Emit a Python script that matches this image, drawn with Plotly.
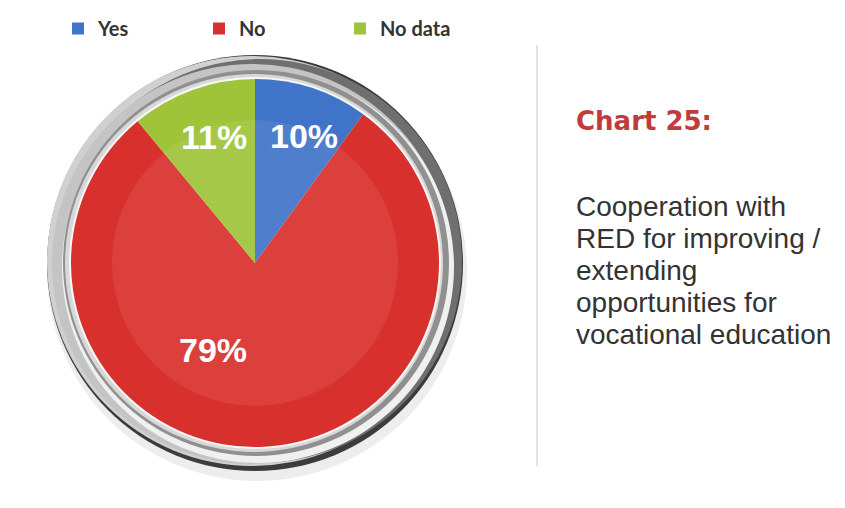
import plotly.graph_objects as go

# ---- data ----
categories = ["Yes", "No", "No data"]
values = [10, 79, 11]
colors = ["#3f74c8", "#d8302d", "#9fc43a"]
title_text = "Chart 25:"
desc_lines = ["Cooperation with", "RED for improving /", "extending",
              "opportunities for", "vocational education"]

W, H = 845, 508
OFF = 8  # page body margin
CX, CY, R = 255, 263, 184


def px(x):
    return (x - OFF) / W


def py(y):
    return 1 - (y - OFF) / H


def circle(cx, cy, r, fill, layer="below", opacity=1.0, line=None):
    return dict(type="circle", xref="paper", yref="paper",
                x0=px(cx - r), x1=px(cx + r), y0=py(cy + r), y1=py(cy - r),
                fillcolor=fill, opacity=opacity, layer=layer,
                line=line or dict(width=0))


fig = go.Figure()
fig.add_trace(go.Pie(
    labels=categories, values=values, sort=False, direction="clockwise",
    rotation=0, marker=dict(colors=colors, line=dict(width=0)),
    textinfo="none", hoverinfo="label+percent",
    domain=dict(x=[px(CX - R), px(CX + R)], y=[py(CY + R), py(CY - R)]),
))

shapes = []
# drop shadow
shapes.append(circle(CX + 2, CY + 8, 210, "#000000", opacity=0.07))
# metallic ring layers
shapes.append(circle(CX, CY, 208, "#3c3c3c"))
shapes.append(circle(CX - 3, CY - 2, 205, "#d0d0d0"))
shapes.append(circle(CX + 5, CY - 2, 202, "#6f6f6f"))
shapes.append(circle(CX - 3, CY + 1, 200, "#c4c4c4"))
shapes.append(circle(CX + 3, CY + 4, 196, "#f0f0f0"))
shapes.append(circle(CX + 1, CY, 193, "#909090"))
shapes.append(circle(CX - 1, CY, 189, "#d8d8d8"))
shapes.append(circle(CX, CY, 186, "#f7f7f7"))
# glossy highlight on top of pie
shapes.append(circle(CX, CY, 143, "#ffffff", layer="above", opacity=0.08))
# divider
shapes.append(dict(type="line", xref="paper", yref="paper",
                   x0=px(537), x1=px(537), y0=py(45), y1=py(466),
                   line=dict(color="#e3e3e3", width=2), layer="below"))

annotations = []
# slice labels
total = sum(values)
label_pos = [(304, 136), (213, 350), (214, 137)]
for v, (lx, ly) in zip(values, label_pos):
    annotations.append(dict(
        x=px(lx), y=py(ly), xref="paper", yref="paper", showarrow=False,
        text=f"<b>{round(100 * v / total)}%</b>",
        font=dict(family="Liberation Sans, Arial", size=34, color="#ffffff"),
        xanchor="center", yanchor="middle"))

annotations.append(dict(
    x=px(574), y=py(121), xref="paper", yref="paper", showarrow=False,
    text=f"<b>{title_text}</b>", xanchor="left", yanchor="middle",
    font=dict(family="DejaVu Sans", size=26, color="#c23b3b")))

for i, line in enumerate(desc_lines):
    annotations.append(dict(
        x=px(574), y=py(206 + 32 * i), xref="paper", yref="paper",
        showarrow=False, text=line, xanchor="left", yanchor="middle",
        font=dict(family="Liberation Sans, Arial", size=28, color="#333333")))

fig.update_layout(
    width=W, height=H, autosize=False,
    margin=dict(l=0, r=0, t=0, b=0),
    paper_bgcolor="#ffffff", plot_bgcolor="#ffffff",
    shapes=shapes, annotations=annotations,
    showlegend=True,
    legend=dict(orientation="h", x=px(58), y=py(9), xanchor="left",
                yanchor="top", entrywidth=96, entrywidthmode="pixels",
                font=dict(family="Lato, Open Sans", size=20, color="#333333",
                          weight="bold"),
                itemclick=False, itemdoubleclick=False),
)

fig.write_html("out.html")
